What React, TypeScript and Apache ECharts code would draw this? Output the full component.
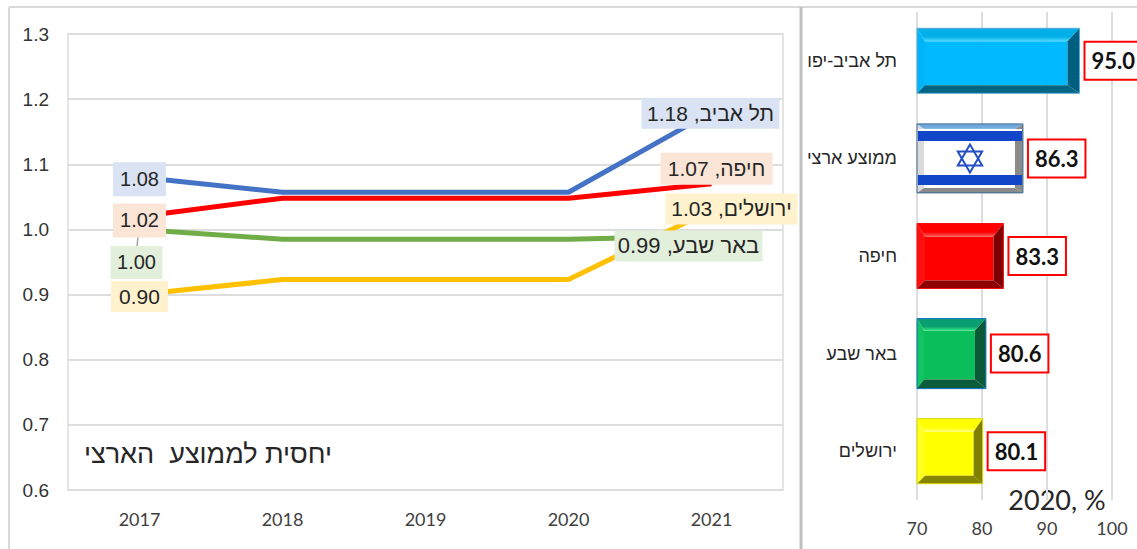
import React, { useEffect, useRef } from "react";
import * as echarts from "echarts";

const years = ["2017", "2018", "2019", "2020", "2021"];
const telAviv = [1.08, 1.057, 1.057, 1.057, 1.18];
const haifa = [1.02, 1.048, 1.048, 1.048, 1.07];
const beerSheva = [1.0, 0.985, 0.985, 0.985, 0.99];
const jerusalem = [0.9, 0.923, 0.923, 0.923, 1.03];

const cities2020 = ["תל אביב-יפו", "ממוצע ארצי", "חיפה", "באר שבע", "ירושלים"];
const values2020 = [95.0, 86.3, 83.3, 80.6, 80.1];

const HEB = "'Liberation Sans', Arial, sans-serif";
const LATIN = "Lato, 'Open Sans', sans-serif";

// Bevel look of each bar: face colours, outline and the widths of the four slopes
const bevels = [
  { front: "#00B9FF", topFrom: "#00AEE8", topTo: "#4FDCFF", left: "#00B4F8", right: "#005F7F", bottom: "#006583", edge: "#5AAAD8", h: 65, t: 13, r: 12, b: 8, l: 8 },
  { front: "#FFFFFF", topFrom: "#6FA8DC", topTo: "#8FC0EA", left: "#DADADA", right: "#8A8A8A", bottom: "#8A8A8A", edge: "#3E6C93", h: 69, t: 5, r: 8, b: 5, l: 7 },
  { front: "#FF0000", topFrom: "#FF0000", topTo: "#FF5A5A", left: "#FF1010", right: "#7F0000", bottom: "#8F0000", edge: "#F01010", h: 65, t: 13, r: 10, b: 8, l: 8 },
  { front: "#0ABF5B", topFrom: "#0A9F70", topTo: "#33E882", left: "#12C562", right: "#0A5A38", bottom: "#0A5C3A", edge: "#0F6FC6", h: 70, t: 12, r: 11, b: 9, l: 7 },
  { front: "#FFFF00", topFrom: "#FFFF00", topTo: "#FFFF66", left: "#FFFF22", right: "#808000", bottom: "#858500", edge: "#D8D800", h: 65, t: 13, r: 9, b: 8, l: 8 },
];

function poly(points: number[][], fill: any) {
  return { type: "polygon", shape: { points }, style: { fill }, silent: true };
}

function renderBevel(_: any, api: any) {
  const idx = api.value(1);
  const c = bevels[idx];
  const [x1, yc] = api.coord([api.value(0), idx]);
  const [x0] = api.coord([70, idx]);
  const y0 = yc - c.h / 2;
  const y1 = yc + c.h / 2;
  const topFill = new echarts.graphic.LinearGradient(0, 0, 0, 1, [
    { offset: 0, color: c.topFrom },
    { offset: 0.65, color: c.topFrom },
    { offset: 1, color: c.topTo },
  ]);
  const children: any[] = [
    poly([[x0 + c.l, y0 + c.t], [x1 - c.r, y0 + c.t], [x1 - c.r, y1 - c.b], [x0 + c.l, y1 - c.b]], c.front),
    poly([[x0, y0], [x0 + c.l, y0 + c.t], [x0 + c.l, y1 - c.b], [x0, y1]], c.left),
    poly([[x0, y0], [x1, y0], [x1 - c.r, y0 + c.t], [x0 + c.l, y0 + c.t]], topFill),
    poly([[x1, y0], [x1, y1], [x1 - c.r, y1 - c.b], [x1 - c.r, y0 + c.t]], c.right),
    poly([[x0, y1], [x1, y1], [x1 - c.r, y1 - c.b], [x0 + c.l, y1 - c.b]], c.bottom),
    { type: "rect", shape: { x: x0, y: y0, width: x1 - x0, height: c.h }, style: { fill: "none", stroke: c.edge, lineWidth: 1 } },
  ];
  if (idx === 1) {
    // National flag: two stripes and a hexagram drawn from two triangles
    const cx = (x0 + x1) / 2;
    const r = 14;
    const blue = "#1246C8";
    const stripe = (top: number, height: number) => ({
      type: "rect",
      shape: { x: x0 + 1, y: top, width: x1 - x0 - 2, height },
      style: { fill: blue },
    });
    children.push(
      { type: "rect", shape: { x: x0 + 1, y: y0 + 5, width: x1 - x0 - 2, height: 2 }, style: { fill: "#FFFFFF" } },
      stripe(y0 + 7, 10),
      stripe(y1 - 18, 10),
      {
        type: "polygon",
        shape: { points: [[cx, yc - r], [cx + r * 0.87, yc + r * 0.5], [cx - r * 0.87, yc + r * 0.5]] },
        style: { fill: "none", stroke: "#2450C4", lineWidth: 2 },
      },
      {
        type: "polygon",
        shape: { points: [[cx, yc + r], [cx + r * 0.87, yc - r * 0.5], [cx - r * 0.87, yc - r * 0.5]] },
        style: { fill: "none", stroke: "#2450C4", lineWidth: 2 },
      }
    );
  }
  return { type: "group", children };
}

function tag(
  dx: number,
  dy: number,
  w: number,
  h: number,
  bg: string,
  text: string,
  fontSize = 20
) {
  return {
    show: true,
    position: "inside",
    offset: [dx, dy],
    width: w,
    height: h,
    lineHeight: h,
    align: "center",
    verticalAlign: "middle",
    backgroundColor: bg,
    color: "#262626",
    fontFamily: HEB,
    fontSize,
    formatter: text,
  };
}

const BLUE_BG = "#DAE3F3";
const RED_BG = "#FBE5D6";
const GREEN_BG = "#E2EFDA";
const YELLOW_BG = "#FFF2CC";

function withTags(values: number[], first: any, last: any) {
  return values.map((value, i) =>
    i === 0 ? { value, label: first } : i === values.length - 1 ? { value, label: last } : { value, label: { show: false } }
  );
}

function lineSeries(name: string, color: string, data: any[]) {
  return {
    name,
    type: "line",
    xAxisIndex: 0,
    yAxisIndex: 0,
    data,
    symbol: "circle",
    symbolSize: 1,
    lineStyle: { color, width: 5, cap: "butt" },
    itemStyle: { color },
  };
}

export default function App() {
  const ref = useRef<HTMLDivElement>(null);

  useEffect(() => {
    const chart = echarts.init(ref.current!, null, { renderer: "svg" });
    chart.setOption({
      animation: false,
      backgroundColor: "#FFFFFF",
      grid: [
        { left: 68, top: 34, width: 715, height: 456, show: true, borderColor: "#E4E4E4", borderWidth: 2, backgroundColor: "transparent" },
        { left: 917, top: 12, width: 195, height: 488 },
      ],
      xAxis: [
        {
          type: "category",
          gridIndex: 0,
          data: years,
          axisLine: { show: false },
          axisTick: { show: false },
          axisLabel: { color: "#404040", fontFamily: LATIN, fontSize: 18, margin: 20 },
        },
        {
          type: "value",
          gridIndex: 1,
          min: 70,
          max: 100,
          interval: 10,
          axisLine: { show: false },
          axisTick: { show: false },
          splitLine: { lineStyle: { color: "#DDDDDD", width: 2 } },
          axisLabel: { color: "#404040", fontFamily: LATIN, fontSize: 18, margin: 19 },
        },
      ],
      yAxis: [
        {
          type: "value",
          gridIndex: 0,
          min: 0.6,
          max: 1.3,
          interval: 0.1,
          axisLine: { show: false },
          axisTick: { show: false },
          splitLine: { lineStyle: { color: "#DDDDDD", width: 2 } },
          axisLabel: { color: "#333333", fontFamily: HEB, fontSize: 19, margin: 19, formatter: (v: number) => v.toFixed(1) },
        },
        {
          type: "category",
          gridIndex: 1,
          inverse: true,
          data: cities2020,
          axisLine: { show: false },
          axisTick: { show: false },
          axisLabel: { color: "#262626", fontFamily: HEB, fontSize: 18, margin: 20 },
        },
      ],
      series: [
        lineSeries(
          "תל אביב",
          "#4472C4",
          withTags(telAviv, tag(0, 2, 53, 34, BLUE_BG, "1.08"), tag(-1, 1, 138, 31, BLUE_BG, "תל אביב, 1.18", 21))
        ),
        lineSeries(
          "באר שבע",
          "#70AD47",
          withTags(beerSheva, tag(-3, 33, 52, 33, GREEN_BG, "1.00"), tag(-23, 10, 148, 31, GREEN_BG, "באר שבע, 0.99", 22))
        ),
        lineSeries(
          "ירושלים",
          "#FFC000",
          withTags(jerusalem, tag(0, 2, 57, 31, YELLOW_BG, "0.90", 21), tag(20, -1, 132, 31, YELLOW_BG, "ירושלים, 1.03", 21))
        ),
        lineSeries(
          "חיפה",
          "#FF0000",
          withTags(haifa, tag(0, 4, 53, 34, RED_BG, "1.02"), tag(5, -15, 112, 32, RED_BG, "חיפה, 1.07", 21))
        ),
        {
          type: "bar",
          xAxisIndex: 1,
          yAxisIndex: 1,
          data: values2020.map((value, i) => ({ value, itemStyle: { color: "transparent" } })),
          barWidth: 65,
          label: {
            show: true,
            position: "right",
            distance: 6,
            padding: [7, 6, 7, 6],
            lineHeight: 22,
            backgroundColor: "#FFFFFF",
            borderColor: "#FF0000",
            borderWidth: 2,
            color: "#111111",
            fontFamily: LATIN,
            fontWeight: "bold",
            fontSize: 22,
            formatter: (p: any) => p.value.toFixed(1),
          },
        },
        {
          type: "custom",
          coordinateSystem: "cartesian2d",
          xAxisIndex: 1,
          yAxisIndex: 1,
          data: values2020.map((v, i) => [v, i]),
          encode: { x: 0, y: 1 },
          renderItem: renderBevel,
          silent: true,
          z: 3,
        },
      ],
      graphic: [
        { type: "line", silent: true, shape: { x1: 9, y1: 7, x2: 1137, y2: 7 }, style: { stroke: "#D9D9D9", lineWidth: 2 } },
        { type: "line", silent: true, shape: { x1: 9, y1: 7, x2: 9, y2: 549 }, style: { stroke: "#D9D9D9", lineWidth: 2 } },
        { type: "line", silent: true, shape: { x1: 801, y1: 7, x2: 801, y2: 549 }, style: { stroke: "#BFBFBF", lineWidth: 3 } },
        // Leader from the Be'er Sheva label up towards its point
        { type: "line", silent: true, shape: { x1: 138, y1: 237, x2: 137, y2: 246 }, style: { stroke: "#A6A6A6", lineWidth: 1.5 } },
        {
          type: "text",
          silent: true,
          x: 208,
          y: 454,
          style: { text: "יחסית לממוצע  הארצי", fill: "#262626", font: `27px ${HEB}`, align: "center", verticalAlign: "middle" },
        },
        {
          type: "text",
          silent: true,
          x: 1057,
          y: 499,
          style: { text: "2020, %", fill: "#262626", font: `27px ${LATIN}`, align: "center", verticalAlign: "middle" },
        },
      ],
    });
    return () => chart.dispose();
  }, []);

  return <div ref={ref} style={{ position: "absolute", left: 0, top: 0, width: 1137, height: 549 }} />;
}
